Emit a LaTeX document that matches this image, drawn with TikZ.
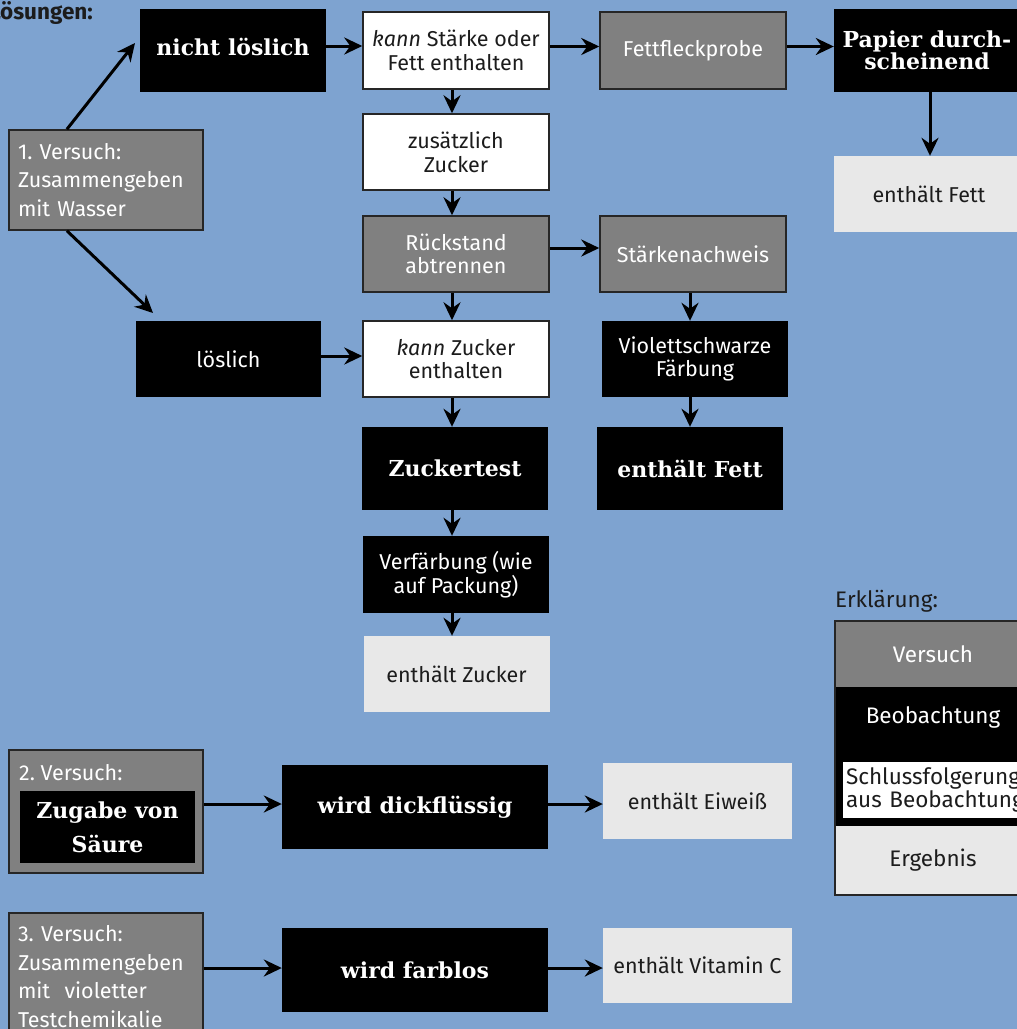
\documentclass[tikz,border=0pt]{standalone}
\usepackage{fontspec}
\setmainfont{Fira Sans}
\newfontfamily\slabfont{DejaVu Serif}
\usetikzlibrary{arrows.meta,calc}
\definecolor{bg}{HTML}{7EA3D0}
\definecolor{vgray}{HTML}{808080}
\definecolor{egray}{HTML}{E8E8E8}
\definecolor{bord}{HTML}{262626}
\definecolor{txt}{HTML}{1C1C1C}
\frenchspacing
\begin{document}
\frenchspacing
\begin{tikzpicture}[x=1pt,y=-1pt,
 box/.style={minimum width=186pt, minimum height=76pt, inner sep=0pt, align=center, font=\fontsize{21.5}{23.5}\selectfont},
 versuch/.style={box, fill=vgray, draw=bord, line width=1.5pt, text=white},
 beob/.style={box, fill=black, text=white},
 beobb/.style={beob, font=\fontsize{22}{22.5}\selectfont\slabfont\bfseries},
 schluss/.style={box, fill=white, draw=bord, line width=1.5pt, text=txt},
 ergeb/.style={box, fill=egray, text=txt},
 vtext/.style={font=\fontsize{21.5}{28.5}\selectfont},
 legtext/.style={font=\fontsize{22.5}{24}\selectfont},
 arr/.style={line width=3pt, -{Stealth[length=18pt,width=17pt,inset=6pt]}},
]
\useasboundingbox[fill=bg] (0,0) rectangle (1017,1029);

\node[anchor=base east, inner sep=0pt, text=txt, font=\fontsize{22.5}{24}\selectfont\bfseries] (ttl) at (93,19) {Lösungen:};

% column nodes
\node[versuch, vtext, minimum width=194pt, minimum height=100pt, align=left, text width=176pt] (v1) at (106,180) {1. Versuch:\\Zusammengeben\\mit Wasser};
\node[beobb, minimum height=83pt, text depth=8pt] (nl) at (233,50.5) {nicht löslich};
\node[schluss, minimum height=77pt] (ks) at (456,50.5) {\textit{kann} Stärke oder\\Fett enthalten};
\node[versuch, minimum height=77pt] (ff) at (693,50.5) {Fettfleckprobe};
\node[beobb, minimum width=186pt, minimum height=83pt] (pd) at (927,50.5) {Papier durch-\\scheinend};
\node[ergeb, minimum width=190pt] (ef) at (929,194) {enthält Fett};
\node[schluss] (zz) at (456,152) {zusätzlich\\Zucker};
\node[versuch] (ra) at (456,254) {Rückstand\\abtrennen};
\node[versuch] (sn) at (693,254) {Stärkenachweis};
\node[beob, minimum width=185pt] (lo) at (228.5,359) {löslich};
\node[schluss] (kz) at (456,359) {\textit{kann} Zucker\\enthalten};
\node[beob] (vs) at (695,359) {Violettschwarze\\Färbung};
\node[beobb, minimum height=83pt] (zt) at (455,468.5) {Zuckertest};
\node[beobb, minimum height=83pt] (efb) at (690,468.5) {enthält Fett};
\node[beob, minimum height=77pt] (vf) at (456,574.5) {Verfärbung (wie\\auf Packung)};
\node[ergeb] (ez) at (456.5,674) {enthält Zucker};

% Versuch 2
\node[versuch, minimum width=194pt, minimum height=123pt] (v2) at (106,811.5) {};
\node[anchor=west, inner sep=0pt, text=white, vtext] (v2t) at (19,773) {2. Versuch:};
\node[beobb, minimum width=175pt, minimum height=72pt, font=\fontsize{22}{34}\selectfont\slabfont\bfseries] (v2b) at (107.5,827) {Zugabe von\\Säure};
\node[beobb, minimum width=266pt, minimum height=84pt] (wd) at (415,807) {wird dickflüssig};
\node[ergeb, minimum width=189pt] (ew) at (697.5,801) {enthält Eiweiß};

% Versuch 3
\node[versuch, vtext, minimum width=194pt, minimum height=127pt, align=left, text width=176pt] (v3) at (106,976.5) {3. Versuch:\\Zusammengeben\\mit~ violetter\\Testchemikalie};
\node[beobb, minimum width=266pt, minimum height=84pt] (wf) at (415,970) {wird farblos};
\node[ergeb, minimum width=189pt, minimum height=75pt] (vc) at (697.5,965.5) {enthält Vitamin C};

% legend
\node[anchor=west, inner sep=0pt, text=txt, legtext] (erk) at (835,601) {Erklärung:};
\node[box, legtext, fill=vgray, text=white, minimum width=196pt, minimum height=66pt] (l1) at (933,654) {Versuch};
\node[box, fill=black, minimum width=196pt, minimum height=139pt] (l2) at (933,756.5) {};
\node[text=white, inner sep=0pt, legtext] (l2t) at (933,717) {Beobachtung};
\node[box, fill=white, text=txt, minimum width=188pt, minimum height=56pt, text width=182pt, align=left, font=\fontsize{22.5}{21.5}\selectfont] (l3) at (937,790) {Schlussfolgerung\\aus Beobachtung};
\node[box, legtext, fill=egray, text=txt, minimum width=196pt, minimum height=69pt] (l4) at (933,860.5) {Ergebnis};
\draw[bord, line width=1.5pt] (l1.north west) rectangle (l4.south east);

% connectors
\coordinate (t1) at (135,43);
\coordinate (t2) at (153,313);
\draw[arr] ($(v1.north west)!0.3!(v1.north east)$) -- (t1);
\draw[arr] ($(v1.south west)!0.3!(v1.south east)$) -- (t2);

\coordinate (a1) at ([yshift=4.5pt]nl.east);
\draw[arr] (a1) -- (a1 -| ks.west);
\coordinate (a2) at ([yshift=4pt]ks.east);
\draw[arr] (a2) -- (a2 -| ff.west);
\coordinate (a3) at ([yshift=4pt]ff.east);
\draw[arr] (a3) -- (a3 -| pd.west);
\draw[arr] ([xshift=3pt]pd.south) -- ([xshift=1pt]ef.north);

\draw[arr] ([xshift=-4pt]ks.south) -- ([xshift=-4pt]zz.north);
\draw[arr] ([xshift=-4pt]zz.south) -- ([xshift=-4pt]ra.north);
\coordinate (a4) at ([yshift=6pt]ra.east);
\draw[arr] (a4) -- (a4 -| sn.west);
\draw[arr] ([xshift=-4pt]ra.south) -- ([xshift=-4pt]kz.north);
\coordinate (a5) at ([yshift=3pt]lo.east);
\draw[arr] (a5) -- (a5 -| kz.west);
\draw[arr] ([xshift=-3pt]sn.south) -- ([xshift=-5pt]vs.north);
\draw[arr] ([xshift=-5pt]vs.south) -- (efb.north);
\draw[arr] ([xshift=-4pt]kz.south) -- ([xshift=-3pt]zt.north);
\draw[arr] ([xshift=-3pt]zt.south) -- ([xshift=-4pt]vf.north);
\draw[arr] ([xshift=-4pt]vf.south) -- ([xshift=-4.5pt]ez.north);

\coordinate (a6) at ([yshift=7.5pt]v2.east);
\draw[arr] (a6) -- (a6 -| wd.west);
\coordinate (a7) at ([yshift=3pt]wd.east);
\draw[arr] (a7) -- (a7 -| ew.west);
\coordinate (a8) at ([yshift=8.5pt]v3.east);
\draw[arr] (a8) -- (a8 -| wf.west);
\coordinate (a9) at ([yshift=2pt]wf.east);
\draw[arr] (a9) -- (a9 -| vc.west);
\end{tikzpicture}
\end{document}
